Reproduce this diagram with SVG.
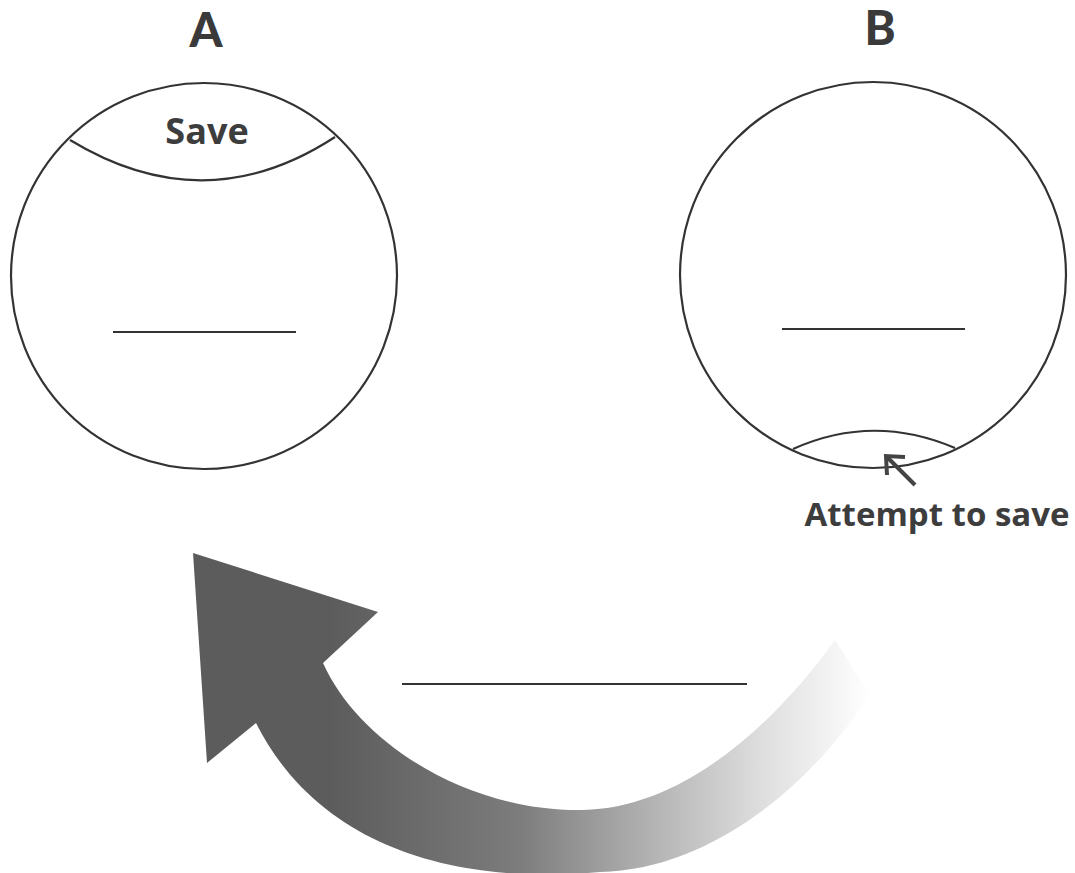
<svg xmlns="http://www.w3.org/2000/svg" width="1075" height="873" viewBox="0 0 1075 873">
<defs>
<style>
.ln{fill:none;stroke:#333;stroke-width:2.2}
.lbl{font-family:Lato,"Open Sans","Liberation Sans",sans-serif;font-weight:900;fill:#3a3a3a;text-anchor:middle}
.txt{font-family:"Open Sans",Lato,"Liberation Sans",sans-serif;font-weight:700;fill:#3d3d3d;text-anchor:middle}
</style>
<linearGradient id="g" gradientUnits="userSpaceOnUse" x1="330" y1="0" x2="870" y2="0">
<stop offset="0" stop-color="#5c5c5c"/>
<stop offset="0.35" stop-color="#7c7c7c"/>
<stop offset="0.62" stop-color="#b8b8b8"/>
<stop offset="0.8" stop-color="#dedede"/>
<stop offset="0.92" stop-color="#f2f2f2"/>
<stop offset="1" stop-color="#ffffff"/>
</linearGradient>
</defs>
<rect width="1075" height="873" fill="#fff"/>
<g id="nodeA">
<text class="lbl" x="206" y="47" font-size="47">A</text>
<circle class="ln" cx="204" cy="276" r="193"/>
<path class="ln" d="M70,140 Q205,222 335,137"/>
<text class="txt" x="207" y="144" font-size="36">Save</text>
<line class="ln" x1="113" y1="332" x2="296" y2="332"/>
</g>
<g id="nodeB">
<text class="lbl" x="880" y="45" font-size="47">B</text>
<circle class="ln" cx="873" cy="275" r="193"/>
<line class="ln" x1="782" y1="329" x2="965" y2="329"/>
<path class="ln" d="M793,449 Q873,413 955,448"/>
<text class="txt" x="937" y="526" font-size="33">Attempt to save</text>
</g>
<g id="connectors">
<g stroke="#444" stroke-width="4" fill="none">
<line x1="915" y1="485" x2="887" y2="457"/>
<polyline points="905,457 886,456 887,475"/>
</g>
<path fill="url(#g)" d="M193,553 L378,612 L323,663 C360,745 470,812 583,810 C680,808 770,730 835,640 L870,695 C800,800 700,870 600,872 C460,885 320,850 256,723 L207,763 Z"/>
<line class="ln" x1="402" y1="684" x2="747" y2="684"/>
</g>
</svg>
